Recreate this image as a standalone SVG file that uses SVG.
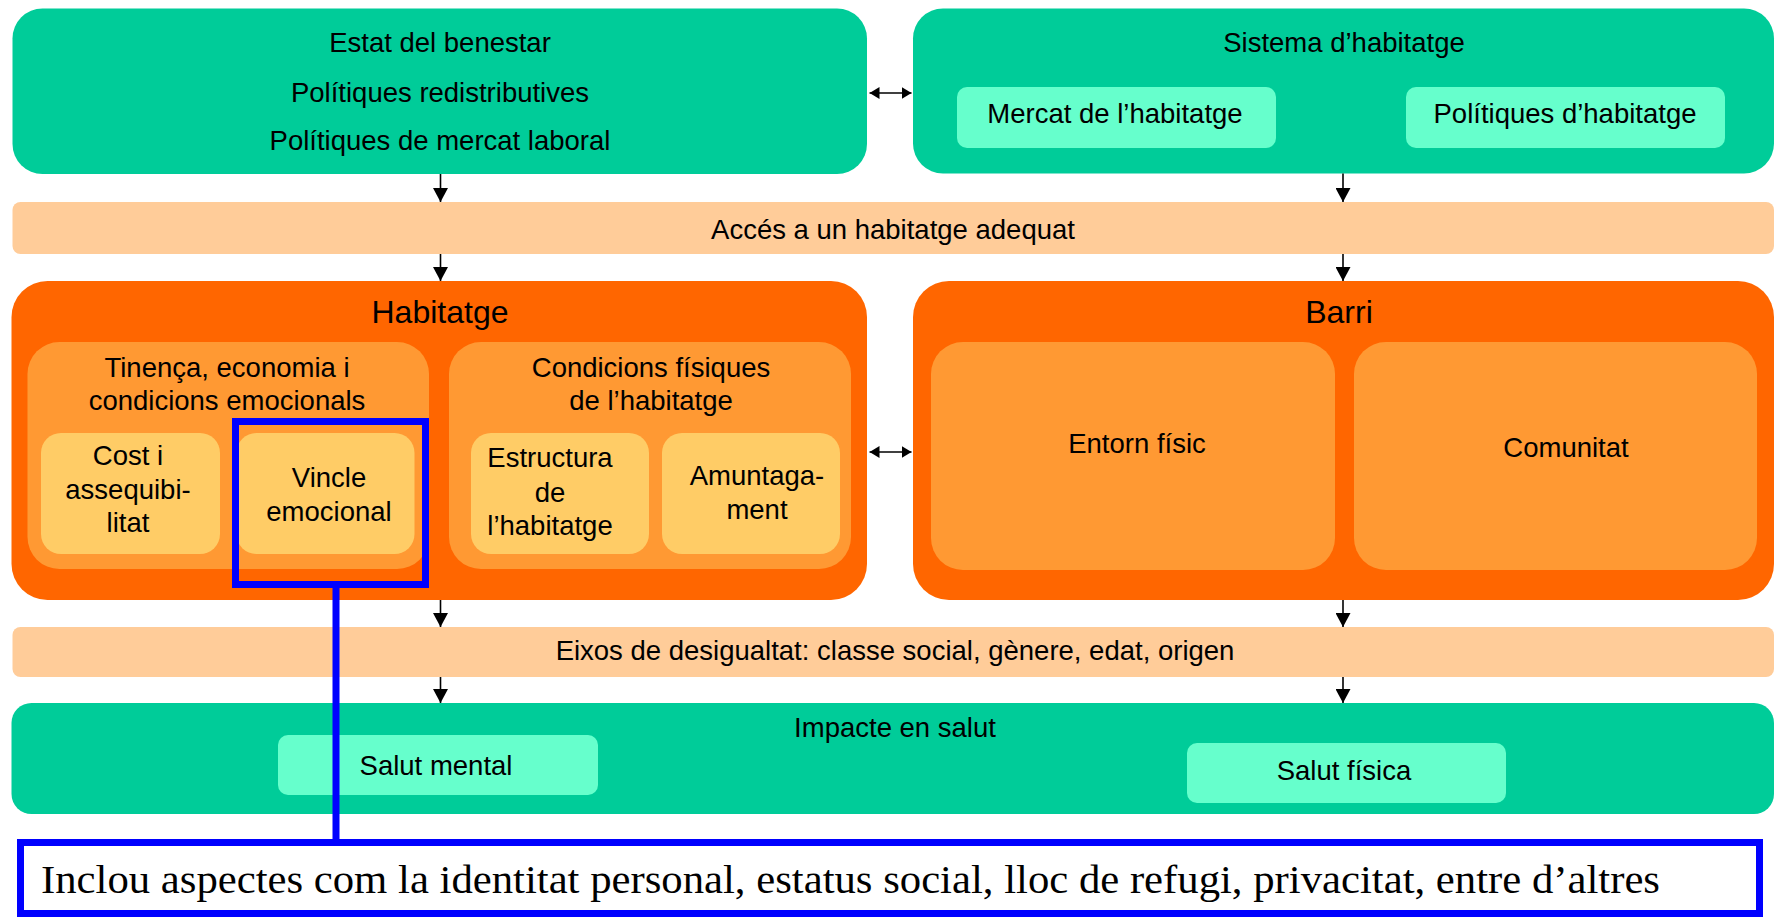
<svg xmlns="http://www.w3.org/2000/svg" width="1776" height="918" viewBox="0 0 1776 918">
<defs>
<style>
text{font-family:"Liberation Sans",Arial,sans-serif;font-size:27.5px;fill:#000;text-anchor:middle}
.big{font-size:32px}
.green{fill:#00CC99}
.mint{fill:#66FFCC}
.band{fill:#FFCC99}
.dark{fill:#FF6600}
.mid{fill:#FF9933}
.light{fill:#FFCC66}
.conn{stroke:#000;stroke-width:1.6;fill:none}
.blue{stroke:#0000FF;stroke-width:7;fill:none}
.note{font-family:"Liberation Serif","Times New Roman",serif;font-size:41px;text-anchor:start}
</style>
<marker id="down" markerUnits="userSpaceOnUse" viewBox="0 0 14 15" refX="14" refY="7.5" markerWidth="14" markerHeight="15" orient="auto">
<path d="M0,0 L14,7.5 L0,15 z" fill="#000"/>
</marker>
<marker id="dbl" markerUnits="userSpaceOnUse" viewBox="0 0 10 12" refX="10" refY="6" markerWidth="10" markerHeight="12" orient="auto-start-reverse">
<path d="M0,0 L10,6 L0,12 z" fill="#000"/>
</marker>
</defs>
<rect width="1776" height="918" fill="#fff"/>

<g id="estat">
<rect class="green" x="12.5" y="8.5" width="854.5" height="165.5" rx="30"/>
<text x="440" y="52">Estat del benestar</text>
<text x="440" y="101.5">Polítiques redistributives</text>
<text x="440" y="150">Polítiques de mercat laboral</text>
</g>

<g id="sistema">
<rect class="green" x="913" y="8.5" width="861" height="165" rx="30"/>
<text x="1344" y="52">Sistema d’habitatge</text>
<rect class="mint" x="957" y="87" width="319" height="61" rx="10"/>
<text x="1115" y="123">Mercat de l’habitatge</text>
<rect class="mint" x="1406" y="87" width="319" height="61" rx="10"/>
<text x="1565" y="123">Polítiques d’habitatge</text>
</g>

<g id="acces">
<rect class="band" x="12.5" y="202" width="1761.5" height="52" rx="8"/>
<text x="893" y="239">Accés a un habitatge adequat</text>
</g>

<g id="habitatge">
<rect class="dark" x="11.5" y="281" width="855.5" height="319" rx="36"/>
<text class="big" x="440" y="323">Habitatge</text>
<rect class="mid" x="27.5" y="342" width="401.5" height="227" rx="32"/>
<text x="227" y="377">Tinença, economia i</text>
<text x="227" y="410">condicions emocionals</text>
<rect class="mid" x="449" y="342" width="402" height="227" rx="32"/>
<text x="651" y="377">Condicions físiques</text>
<text x="651" y="410">de l’habitatge</text>
</g>

<g id="cost">
<rect class="light" x="41" y="433" width="179" height="121" rx="20"/>
<text x="128" y="465">Cost i</text>
<text x="128" y="499">assequibi-</text>
<text x="128" y="532">litat</text>
</g>

<g id="vincle">
<rect class="light" x="236.5" y="433" width="178" height="121" rx="20"/>
<text x="329" y="487">Vincle</text>
<text x="329" y="521">emocional</text>
</g>

<g id="estructura">
<rect class="light" x="471" y="433" width="178" height="121" rx="20"/>
<text x="550" y="467">Estructura</text>
<text x="550" y="502">de</text>
<text x="550" y="535">l’habitatge</text>
</g>

<g id="amuntegament">
<rect class="light" x="662" y="433" width="178" height="121" rx="20"/>
<text x="757" y="485">Amuntaga-</text>
<text x="757" y="519">ment</text>
</g>

<g id="barri">
<rect class="dark" x="913" y="281" width="861" height="319" rx="36"/>
<text class="big" x="1339" y="323">Barri</text>
</g>

<g id="entorn">
<rect class="mid" x="931" y="342" width="404" height="228" rx="32"/>
<text x="1137" y="453">Entorn físic</text>
</g>

<g id="comunitat">
<rect class="mid" x="1354" y="342" width="403" height="228" rx="32"/>
<text x="1566" y="457">Comunitat</text>
</g>

<g id="eixos">
<rect class="band" x="12.5" y="627" width="1761.5" height="50" rx="8"/>
<text x="895" y="660">Eixos de desigualtat: classe social, gènere, edat, origen</text>
</g>

<g id="impacte">
<rect class="green" x="11.5" y="703" width="1762.5" height="111" rx="20"/>
<text x="895" y="737">Impacte en salut</text>
<rect class="mint" x="278" y="735" width="320" height="60" rx="10"/>
<text x="436" y="775">Salut mental</text>
<rect class="mint" x="1187" y="743" width="319" height="60" rx="10"/>
<text x="1344" y="780">Salut física</text>
</g>

<g id="connectors">
<line class="conn" x1="440.5" y1="174" x2="440.5" y2="202" marker-end="url(#down)"/>
<line class="conn" x1="1343" y1="173.5" x2="1343" y2="202" marker-end="url(#down)"/>
<line class="conn" x1="440.5" y1="254" x2="440.5" y2="281" marker-end="url(#down)"/>
<line class="conn" x1="1343" y1="254" x2="1343" y2="281" marker-end="url(#down)"/>
<line class="conn" x1="440.5" y1="600" x2="440.5" y2="627" marker-end="url(#down)"/>
<line class="conn" x1="1343" y1="600" x2="1343" y2="627" marker-end="url(#down)"/>
<line class="conn" x1="440.5" y1="677" x2="440.5" y2="703" marker-end="url(#down)"/>
<line class="conn" x1="1343" y1="677" x2="1343" y2="703" marker-end="url(#down)"/>
<line class="conn" x1="869.5" y1="93" x2="911.5" y2="93" marker-start="url(#dbl)" marker-end="url(#dbl)"/>
<line class="conn" x1="869.5" y1="452" x2="911.5" y2="452" marker-start="url(#dbl)" marker-end="url(#dbl)"/>
</g>

<g id="annotation">
<rect class="blue" x="235.5" y="421.5" width="190" height="163"/>
<line class="blue" x1="336" y1="588" x2="336" y2="842"/>
<rect x="20.5" y="842.5" width="1739" height="71" fill="#fff" stroke="#0000FF" stroke-width="7"/>
<text class="note" x="41" y="893" textLength="1619" lengthAdjust="spacingAndGlyphs">Inclou aspectes com la identitat personal, estatus social, lloc de refugi, privacitat, entre d’altres</text>
</g>
</svg>
